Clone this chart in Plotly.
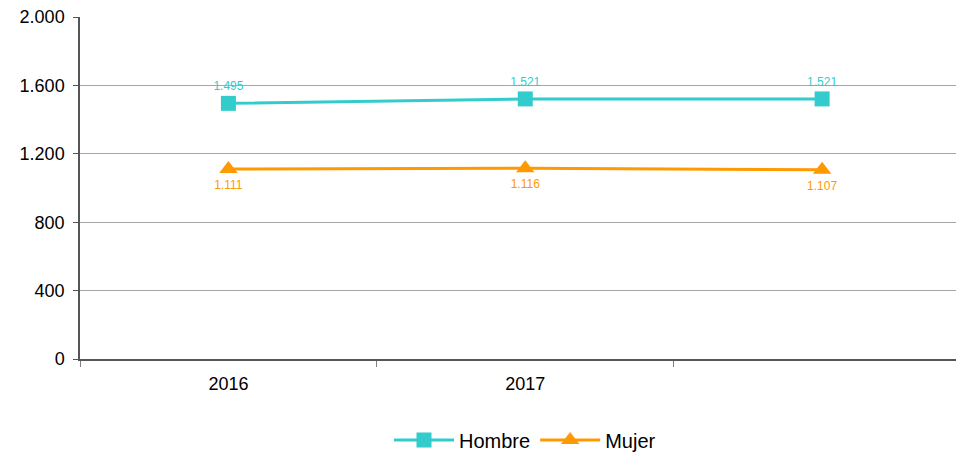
import plotly.graph_objects as go

YEARS = ["2016", "2017", " "]
HOMBRE = [1495, 1521, 1521]
MUJER = [1111, 1116, 1107]
HOMBRE_LABELS = ["1.495", "1.521", "1.521"]
MUJER_LABELS = ["1.111", "1.116", "1.107"]

TEAL = "#33CCCC"
ORANGE = "#FF9900"
FONT = "Liberation Sans, Arial, sans-serif"

fig = go.Figure()
fig.add_trace(go.Scatter(
    x=YEARS, y=HOMBRE, name="Hombre", mode="lines+markers+text",
    line=dict(color=TEAL, width=3),
    marker=dict(symbol="square", size=15, color=TEAL),
    text=HOMBRE_LABELS, textposition="top center",
    textfont=dict(color=TEAL, size=12, family=FONT),
))
fig.add_trace(go.Scatter(
    x=YEARS, y=MUJER, name="Mujer", mode="lines+markers+text",
    line=dict(color=ORANGE, width=3),
    marker=dict(symbol="triangle-up", size=16, color=ORANGE),
    text=MUJER_LABELS, textposition="bottom center",
    textfont=dict(color=ORANGE, size=12, family=FONT),
))

fig.update_layout(
    width=956, height=454,
    margin=dict(l=80, r=0, t=17, b=95, autoexpand=False),
    plot_bgcolor="white", paper_bgcolor="white",
    separators=",.",
    font=dict(family=FONT, size=18, color="#000000"),
    showlegend=True,
    legend=dict(
        orientation="h", x=0.508, xanchor="center",
        y=-0.237, yanchor="middle",
        font=dict(size=20), itemwidth=60,
    ),
)
fig.update_xaxes(
    type="category", range=[-0.5, 2.451], automargin=False,
    tickson="boundaries", ticks="outside", ticklen=6, tickcolor="#808080",
    showline=True, linecolor="#555555", linewidth=1.5,
    showgrid=False, tickfont=dict(size=18), ticklabelstandoff=8,
)
fig.update_yaxes(
    range=[0, 2000], tickvals=[0, 400, 800, 1200, 1600, 2000],
    tickformat=",d", automargin=False,
    ticks="outside", ticklen=5, tickcolor="#555555",
    showline=True, linecolor="#555555", linewidth=1.5,
    showgrid=True, gridcolor="#A6A6A6", gridwidth=1,
    zeroline=False, tickfont=dict(size=18), ticklabelstandoff=5,
)

fig.write_html(
    "out.html",
    config={"displayModeBar": False},
    post_script="document.body.style.margin='0';document.body.style.overflow='hidden';",
)
